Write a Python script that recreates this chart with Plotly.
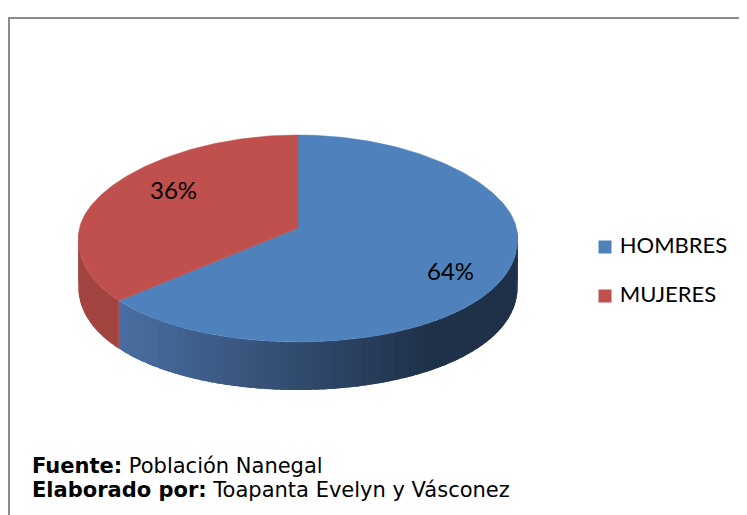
import numpy as np
import plotly.graph_objects as go

# ---- data ----
categories = ["HOMBRES", "MUJERES"]
values = [64, 36]
pct_labels = ["64%", "36%"]
top_colors = ["#4F81BD", "#C0504D"]

# ---- geometry (pixel space of the page) ----
W, H = 747, 515
OFF = 8  # page body margin
cx, cy = 298, 228
rx = 218.5
ry_back, ry_front = 93, 114
persp = 0.10
depth = 48


def pt(phi_deg, dy=0.0, k=1.0):
    p = np.radians(phi_deg)
    s = np.sin(p)
    ry = ry_back if s > 0 else ry_front
    return cx + k * rx * np.cos(p) * (1 - persp * s), cy - k * ry * s + dy


def lerp_col(c1, c2, t):
    a = [int(c1[i:i + 2], 16) for i in (1, 3, 5)]
    b = [int(c2[i:i + 2], 16) for i in (1, 3, 5)]
    return "#%02x%02x%02x" % tuple(int(round(a[j] + (b[j] - a[j]) * t)) for j in range(3))


fig = go.Figure()

# slice angular ranges: start at 12 o'clock, clockwise
total = float(sum(values))
ranges = []
start = 90.0
for v in values:
    sweep = 360.0 * v / total
    ranges.append((start - sweep, start))
    start -= sweep

# side walls (front half: phi in [-180, 0])
side_specs = [("#4A6FA2", "#1F3149"), ("#A2443F", "#9E423E")]
for idx, (a, b) in enumerate(ranges):
    for shift in (0, -360, 360):
        lo, hi = max(a + shift, -180), min(b + shift, 0)
        if hi <= lo:
            continue
        n = max(2, int((hi - lo) / 2))
        step = (hi - lo) / n
        c1, c2 = side_specs[idx]
        for i in range(n):
            p0 = lo + i * step
            p1 = min(hi, p0 + step * 1.8)
            xm = pt(p0 + step / 2)[0]
            t = min(1.0, max(0.0, (xm - 118) / (430 - 118)))
            col = lerp_col(c1, c2, t)
            ph = np.linspace(p0, p1, 5)
            top = [pt(p) for p in ph]
            bot = [pt(p, depth) for p in ph[::-1]]
            xs = [q[0] for q in top + bot]
            ys = [q[1] for q in top + bot]
            fig.add_trace(go.Scatter(x=xs, y=ys, fill="toself", fillcolor=col,
                                     mode="none", hoverinfo="skip", showlegend=False))

# top faces
for idx, (a, b) in enumerate(ranges):
    ph = np.linspace(a, b, 200)
    xs = [cx] + [pt(p)[0] for p in ph] + [cx]
    ys = [cy] + [pt(p)[1] for p in ph] + [cy]
    fig.add_trace(go.Scatter(x=xs, y=ys, fill="toself", fillcolor=top_colors[idx],
                             mode="lines", line=dict(color=top_colors[idx], width=0.5),
                             hoverinfo="skip", showlegend=False))

# percentage labels
label_k = [0.74, 0.66]
label_dx = [0, 0]
label_dy = [7, -12]
for idx, (a, b) in enumerate(ranges):
    mid = (a + b) / 2
    x, y = pt(mid, k=label_k[idx])
    fig.add_annotation(x=x + label_dx[idx], y=y + label_dy[idx], text=pct_labels[idx],
                       showarrow=False, font=dict(family="Lato", size=24, color="#000000"))

# legend (manual)
leg_y = [247, 296]
fig.add_trace(go.Scatter(x=[605, 605], y=leg_y, mode="markers+text",
                         marker=dict(symbol="square", size=13, color=top_colors,
                                     line=dict(width=0)),
                         text=[" " + c for c in categories], textposition="middle right",
                         textfont=dict(family="Lato", size=22, color="#000000"),
                         hoverinfo="skip", showlegend=False))

# footer
fig.add_annotation(x=30, y=466, xanchor="left", yanchor="middle", showarrow=False,
                   text="<b>Fuente:</b> Población Nanegal",
                   font=dict(family="DejaVu Sans", size=21, color="#000000"))
fig.add_annotation(x=30, y=490, xanchor="left", yanchor="middle", showarrow=False,
                   text="<b>Elaborado por:</b> Toapanta Evelyn y Vásconez",
                   font=dict(family="DejaVu Sans", size=21, color="#000000"))

# frame
fig.add_shape(type="rect", x0=9, y0=18, x1=W + 30, y1=H + 30,
              line=dict(color="#8C8C8C", width=2), xref="x", yref="y")

fig.update_layout(
    width=W, height=H, autosize=False,
    margin=dict(l=0, r=0, t=0, b=0),
    paper_bgcolor="white", plot_bgcolor="white",
    xaxis=dict(range=[OFF, W + OFF], visible=False, fixedrange=True),
    yaxis=dict(range=[H + OFF, OFF], visible=False, fixedrange=True),
    showlegend=False,
)

fig.write_html("out.html")
